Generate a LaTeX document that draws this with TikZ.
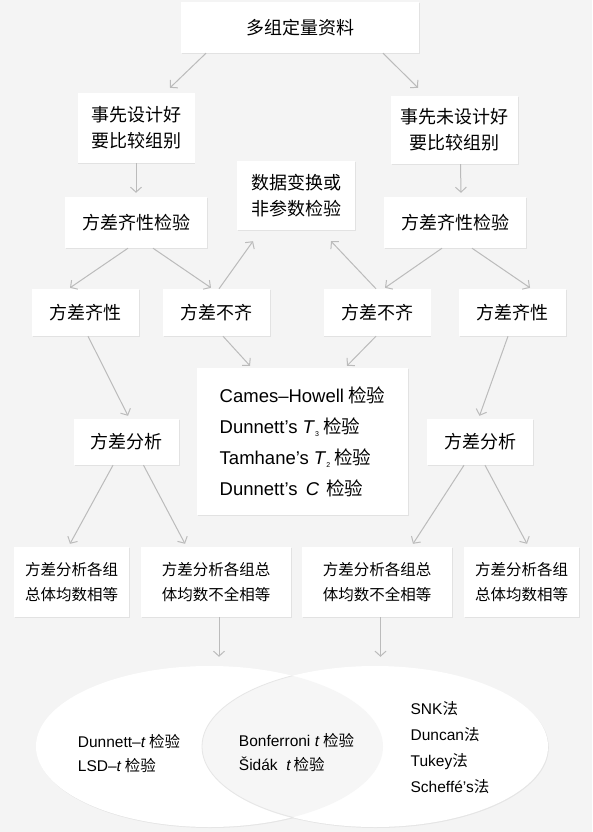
\documentclass[tikz,border=0pt]{standalone}
\usepackage{fontspec}
\setmainfont{Noto Sans CJK SC}
\newfontfamily\latfont{Liberation Sans}
\usetikzlibrary{arrows.meta,shapes.geometric,shadows}
\definecolor{bggray}{HTML}{F4F4F4}
\definecolor{arrgray}{HTML}{BBBBBB}
\definecolor{lapgray}{HTML}{F6F6F6}
\definecolor{lapedge}{HTML}{E6E6E6}
\newcommand{\subidx}[1]{\raisebox{-0.35ex}{\fontsize{7}{7}\selectfont #1}}
\tikzset{
  box/.style={fill=white, inner sep=0pt, align=center,
    font=\fontsize{18}{26}\selectfont,
    drop shadow={shadow xshift=0.6pt, shadow yshift=-0.8pt, opacity=0.07, fill=black}},
  smallbox/.style={box, font=\fontsize{15.5}{25}\selectfont},
  arr/.style={draw=arrgray, line width=1pt, -{Straight Barb[length=5pt,width=11pt]}},
  ell/.style={ellipse, fill=white, inner sep=0pt, minimum height=161pt,
    drop shadow={shadow xshift=0.8pt, shadow yshift=-1pt, opacity=0.06, fill=black}},
  venntext/.style={align=left, inner sep=0pt, font=\fontsize{15.5}{24}\selectfont}
}

\begin{document}
\begin{tikzpicture}[x=1pt, y=-1pt]
\fill[bggray] (0,0) rectangle (592,832);
\useasboundingbox (0,0) rectangle (592,832);
%
\node[box, minimum width=238pt, minimum height=51pt] (top) at (300,27.5) {多组定量资料};
\node[box, minimum width=117pt, minimum height=70pt] (preL) at (136,128) {事先设计好\\要比较组别};
\node[box, minimum width=127pt, minimum height=68pt] (preR) at (454.5,130) {事先未设计好\\要比较组别};
\node[box, minimum width=118pt, minimum height=69pt] (trans) at (296,195.5) {数据变换或\\非参数检验};
\node[box, minimum width=142pt, minimum height=51pt] (homL) at (136,222.5) {方差齐性检验};
\node[box, minimum width=142pt, minimum height=51pt] (homR) at (455,222.5) {方差齐性检验};
%
\node[box, minimum width=107pt, minimum height=47pt] (eqL) at (85.5,312.5) {方差齐性};
\node[box, minimum width=107pt, minimum height=47pt] (neqL) at (216.5,312.5) {方差不齐};
\node[box, minimum width=107pt, minimum height=47pt] (neqR) at (377,312.5) {方差不齐};
\node[box, minimum width=107pt, minimum height=47pt] (eqR) at (512.5,312.5) {方差齐性};
%
\node[box, minimum width=211pt, minimum height=147pt, align=left,
  font=\fontsize{18.5}{31}\selectfont] (big) at (302.5,441.5)
  {{\latfont Cames–Howell} 检验\\
   {\latfont Dunnett’s \textit{T}\subidx{3}} 检验\\
   {\latfont Tamhane’s \textit{T}\subidx{2}} 检验\\
   {\latfont Dunnett’s \,\textit{C}\,} 检验};
\node[box, minimum width=105pt, minimum height=46pt] (anovaL) at (126.5,442) {方差分析};
\node[box, minimum width=106pt, minimum height=46pt] (anovaR) at (480,442) {方差分析};
%
\node[smallbox, minimum width=115pt, minimum height=70pt] (resA) at (71.5,582) {方差分析各组\\总体均数相等};
\node[smallbox, minimum width=150pt, minimum height=70pt] (resB) at (216,582) {方差分析各组总\\体均数不全相等};
\node[smallbox, minimum width=150pt, minimum height=70pt] (resC) at (377,582) {方差分析各组总\\体均数不全相等};
\node[smallbox, minimum width=115pt, minimum height=70pt] (resD) at (521.5,582) {方差分析各组\\总体均数相等};
%
\node[ell, minimum width=347pt] (ellL) at (209.5,746.5) {};
\node[ell, minimum width=346pt] (ellR) at (375,746.5) {};
\begin{scope}
\clip (209.5,746.5) ellipse [x radius=173.5pt, y radius=80.5pt];
\filldraw[fill=lapgray, draw=lapedge, line width=0.8pt] (375,746.5) ellipse [x radius=173pt, y radius=80.5pt];
\end{scope}
\node[venntext] (txL) at (129,753.5)
  {{\latfont Dunnett–\textit{t}} 检验\\{\latfont LSD–\textit{t}} 检验};
\node[venntext] (txM) at (296.5,752.5)
  {{\latfont Bonferroni \textit{t}} 检验\\{\latfont Šidák \ \textit{t}}\,检验};
\node[venntext, font=\fontsize{15.5}{26}\selectfont] (txR) at (450,748)
  {{\latfont SNK}法\\{\latfont Duncan}法\\{\latfont Tukey}法\\{\latfont Scheffé’s}法};
%
\draw[arr] ([xshift=-94pt]top.south) -- ([xshift=34pt,yshift=5pt]preL.north);
\draw[arr] ([xshift=83pt]top.south) -- ([xshift=-36.5pt,yshift=8pt]preR.north);
\draw[arr] (preL.south) -- ([yshift=4pt]homL.north);
\draw[arr] ([xshift=6pt]preR.south) -- ([xshift=6pt,yshift=4pt]homR.north);
\draw[arr] ([xshift=-8pt]homL.south) -- ([xshift=-15.5pt,yshift=1pt]eqL.north);
\draw[arr] ([xshift=17pt]homL.south) -- ([xshift=-5.5pt,yshift=1pt]neqL.north);
\draw[arr] ([xshift=2.5pt]neqL.north) -- ([xshift=-43pt,yshift=-11pt]trans.south);
\draw[arr] ([xshift=-1pt]neqR.north) -- ([xshift=35pt,yshift=-11pt]trans.south);
\draw[arr] ([xshift=-13pt]homR.south) -- ([xshift=8pt,yshift=1pt]neqR.north);
\draw[arr] ([xshift=17pt]homR.south) -- ([xshift=17.5pt,yshift=1pt]eqR.north);
\draw[arr] ([xshift=2.5pt]eqL.south) -- ([xshift=1.5pt,yshift=3pt]anovaL.north);
\draw[arr] ([xshift=6.5pt]neqL.south) -- ([xshift=-52.5pt,yshift=2pt]big.north);
\draw[arr] ([xshift=-1pt]neqR.south) -- ([xshift=44.5pt,yshift=2pt]big.north);
\draw[arr] ([xshift=-4.5pt]eqR.south) -- ([xshift=-0.5pt,yshift=3pt]anovaR.north);
\draw[arr] ([xshift=-13.5pt]anovaL.south) -- ([xshift=-1.5pt,yshift=3pt]resA.north);
\draw[arr] ([xshift=17pt]anovaL.south) -- ([xshift=-31pt,yshift=3pt]resB.north);
\draw[arr] ([xshift=-16pt]anovaR.south) -- ([xshift=36pt,yshift=3pt]resC.north);
\draw[arr] ([xshift=5pt]anovaR.south) -- ([xshift=5.5pt,yshift=3pt]resD.north);
\draw[arr] ([xshift=3pt]resB.south) -- ([xshift=9.5pt,yshift=9pt]ellL.north);
\draw[arr] ([xshift=3.5pt]resC.south) -- ([xshift=5.5pt,yshift=9pt]ellR.north);
\end{tikzpicture}
\end{document}
